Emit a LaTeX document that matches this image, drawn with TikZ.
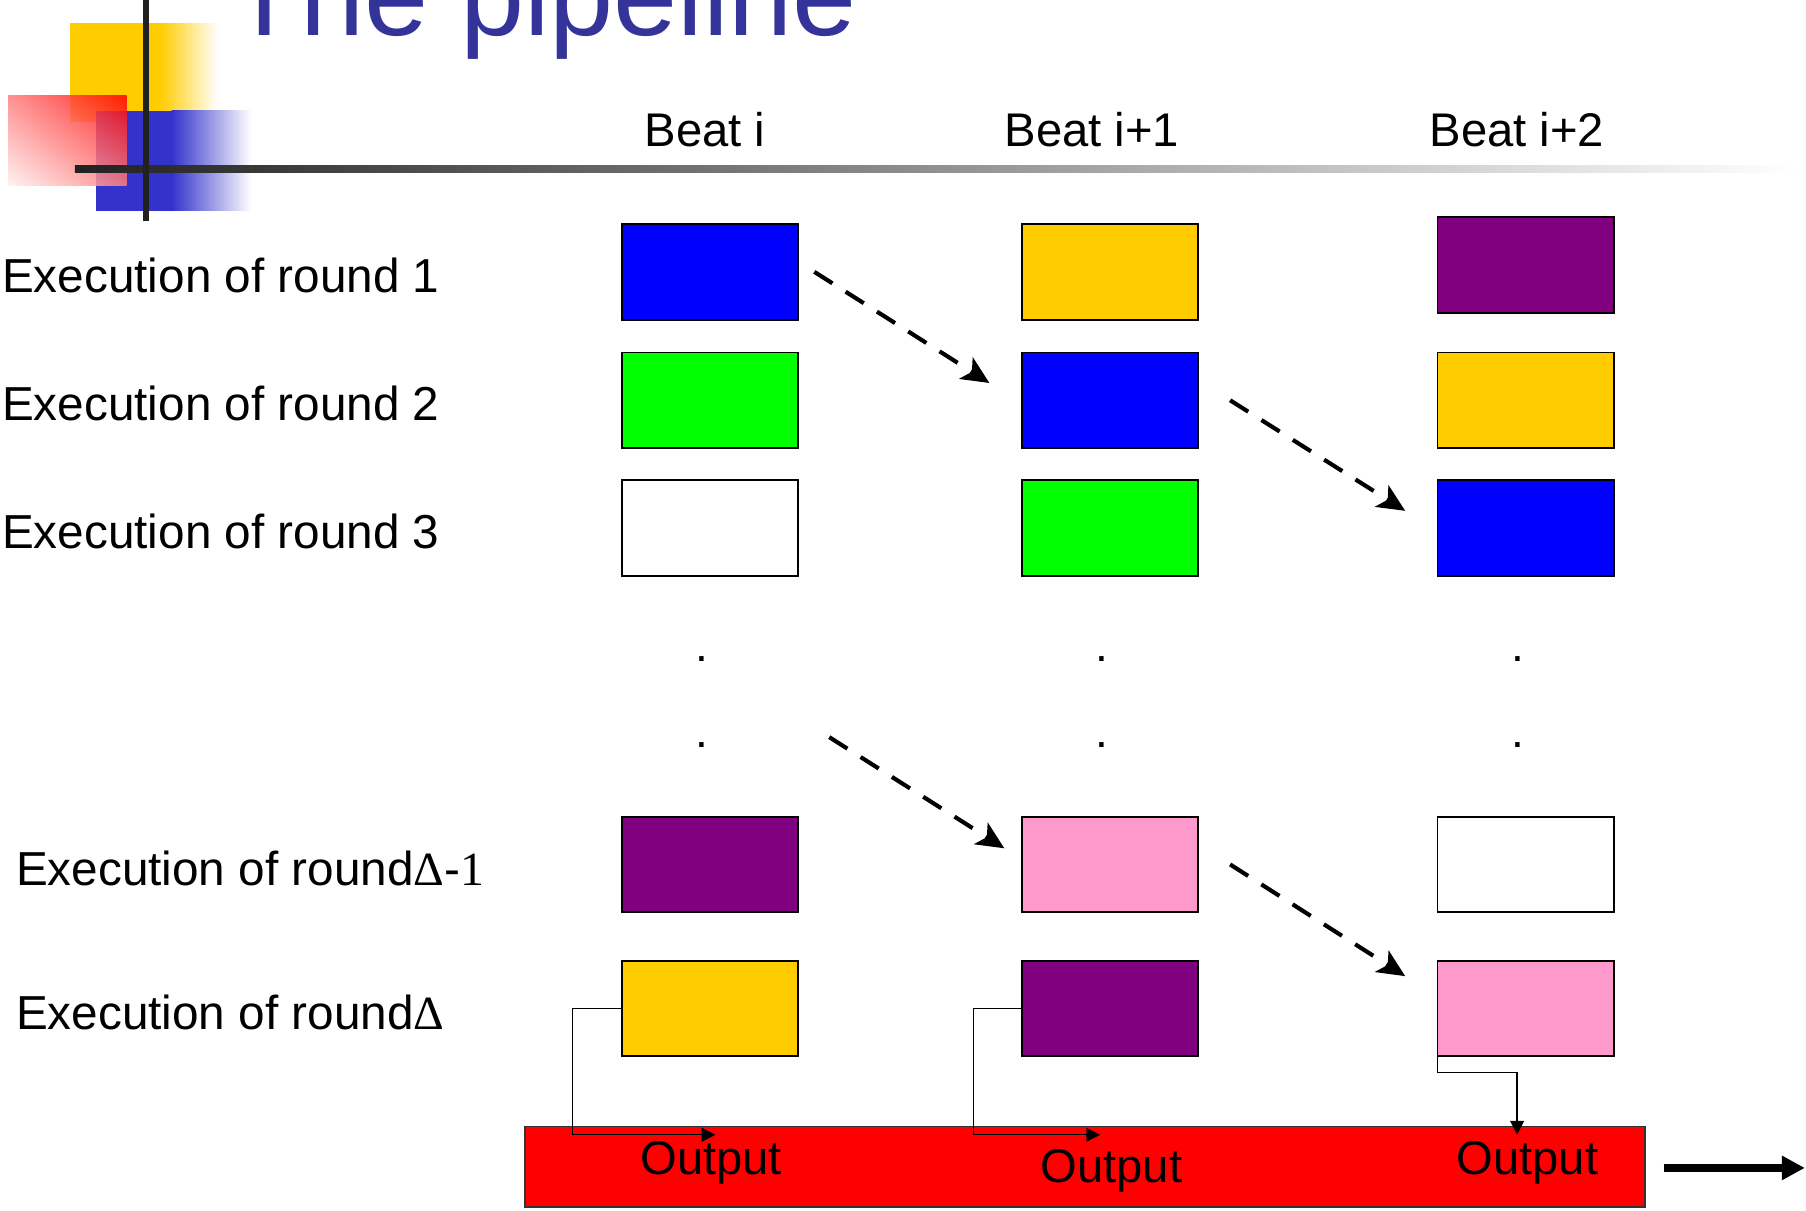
\documentclass[tikz,border=0pt]{standalone}
\usepackage{fontspec}
\setmainfont{Liberation Sans}
\newfontfamily\serifgr{Liberation Serif}
\usetikzlibrary{arrows.meta,calc,shadings}

\definecolor{titleblue}{HTML}{333399}
\definecolor{decoyellow}{HTML}{FFCC00}
\definecolor{decoblue}{HTML}{3333CC}
\definecolor{cblue}{HTML}{0000FF}
\definecolor{cyellow}{HTML}{FFCC00}
\definecolor{cpurple}{HTML}{800080}
\definecolor{cgreen}{HTML}{00FF00}
\definecolor{cpink}{HTML}{FF99CC}

\begin{document}
\begin{tikzpicture}[x=0.5pt,y=-0.5pt,
  cell/.style={draw=black,line width=0.8pt,minimum width=76.5pt,minimum height=41.5pt,inner sep=0pt,outer sep=0pt},
  rowlabel/.style={font=\fontsize{20.7}{24}\selectfont,inner sep=0pt,anchor=base west},
  beatlabel/.style={font=\fontsize{20.5}{24}\selectfont,inner sep=0pt,anchor=base},
  outlabel/.style={font=\fontsize{20.5}{24}\selectfont,inner sep=0pt,anchor=base},
  dotmark/.style={font=\fontsize{20}{24}\selectfont,inner sep=0pt,anchor=base},
  carry/.style={line width=1.8pt,dash pattern=on 9.3pt off 6.8pt,-{Stealth[length=12pt,width=11pt,inset=3pt]}},
  feed/.style={line width=0.6pt,-{Triangle[length=6pt,width=6pt]}}]

\useasboundingbox (0,0) rectangle (1568,1051);

% corner ornament
\fill[decoyellow] (61,20) rectangle (139,106);
\shade[left color=decoyellow,right color=white] (139,20) rectangle (189,106);
\fill[decoblue] (83,96) rectangle (149,183);
\shade[left color=decoblue,right color=white] (149,96) rectangle (218,183);
\shade[opacity=0.85,upper right=red,lower left=red!6,upper left=red!50,lower right=red!50] (7,83) rectangle (110,161);
\shade[left color=black!87,right color=white] (65,144) rectangle (1560,150);
\fill[black!87] (124,0) rectangle (129,192);

% title
\node[anchor=base west,inner sep=0pt,text=titleblue,font=\fontsize{50}{60}\selectfont] (title) at (199,31) {The pipeline};

% column headers
\node[beatlabel] (beat0) at (612,127) {Beat i};
\node[beatlabel] (beat1) at (948,127) {Beat i+1};
\node[beatlabel] (beat2) at (1317,127) {Beat i+2};

% row headers
\node[rowlabel] (row1) at (1.5,254) {Execution of round 1};
\node[rowlabel] (row2) at (1.5,365.5) {Execution of round 2};
\node[rowlabel] (row3) at (1.5,476.5) {Execution of round 3};
\node[rowlabel] (rowdm) at (13.5,768.5) {Execution of round{\serifgr Δ}-{\serifgr 1}};
\node[rowlabel] (rowd) at (13.5,893.5) {Execution of round{\serifgr Δ}};

% round cells
\node[cell,fill=cblue]   (a1) at (616.5,236) {};
\node[cell,fill=cyellow] (b1) at (963.5,236) {};
\node[cell,fill=cpurple] (c1) at (1324.5,230) {};
\node[cell,fill=cgreen]  (a2) at (616.5,347.5) {};
\node[cell,fill=cblue]   (b2) at (963.5,347.5) {};
\node[cell,fill=cyellow] (c2) at (1324.5,347.5) {};
\node[cell,fill=white]   (a3) at (616.5,458.5) {};
\node[cell,fill=cgreen]  (b3) at (963.5,458.5) {};
\node[cell,fill=cblue]   (c3) at (1324.5,458.5) {};
\node[cell,fill=cpurple] (am) at (616.5,750.5) {};
\node[cell,fill=cpink]   (bm) at (963.5,750.5) {};
\node[cell,fill=white]   (cm) at (1324.5,750.5) {};
\node[cell,fill=cyellow] (ad) at (616.5,875.5) {};
\node[cell,fill=cpurple] (bd) at (963.5,875.5) {};
\node[cell,fill=cpink]   (cd) at (1324.5,875.5) {};

% vertical ellipses
\node[dotmark] (dA1) at (609,574) {.};
\node[dotmark] (dB1) at (957,574) {.};
\node[dotmark] (dC1) at (1318,574) {.};
\node[dotmark] (dA2) at (609,649) {.};
\node[dotmark] (dB2) at (957,649) {.};
\node[dotmark] (dC2) at (1318,649) {.};

% rounds moving on to the next beat
\coordinate (prevround) at (720,640);
\draw[carry] ($(a1.east)+(14,0)$) -- ($(b2.west)+(-28,-15)$);
\draw[carry] ($(b2.east)+(28,0)$) -- ($(c3.west)+(-28,-15)$);
\draw[carry] (prevround) -- ($(bm.west)+(-15,-14)$);
\draw[carry] ($(bm.east)+(28,0)$) -- ($(cd.west)+(-28,-28)$);

% output stream
\node[draw=black!80,line width=0.8pt,fill=red,minimum width=486pt,minimum height=35pt,inner sep=0pt] (bar) at (942,1013) {};
\node[outlabel] (out1) at (617.5,1020) {Output};
\node[outlabel] (out2) at (965,1027) {Output};
\node[outlabel] (out3) at (1326,1020) {Output};

\draw[feed] (ad.west) -- ++(-43,0) |- ($(bar.north west)+(166,8)$);
\draw[feed] (bd.west) -- ++(-42,0) |- ($(bar.north west)+(500,8)$);
\draw[feed] (cd.south west) -- ++(0,14) -| ($(bar.north west)+(862,8)$);

\coordinate (streamend) at (1567,1014);
\draw[line width=3.5pt,-{Triangle[length=10pt,width=10pt]}] ($(bar.east)+(15.5,1)$) -- (streamend);
\end{tikzpicture}
\end{document}
